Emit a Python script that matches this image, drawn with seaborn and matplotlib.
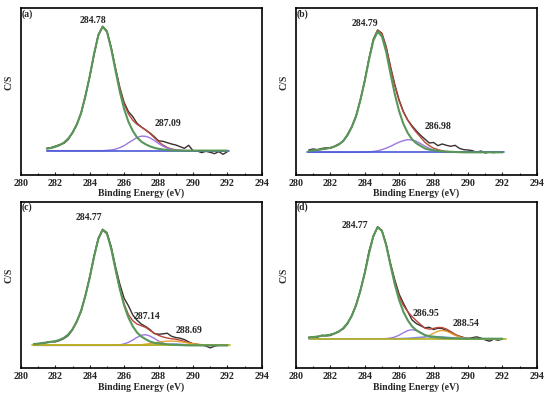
import matplotlib
matplotlib.use("Agg")
import matplotlib.pyplot as plt
import seaborn as sns
from matplotlib.ticker import MultipleLocator

# binding energy grids (eV)
energy_a = [281.5, 281.75, 282.0, 282.25, 282.5, 282.75, 283.0, 283.25, 283.5, 283.75,
            284.0, 284.25, 284.5, 284.75, 285.0, 285.25, 285.5, 285.75, 286.0, 286.25,
            286.5, 286.75, 287.0, 287.25, 287.5, 287.75, 288.0, 288.25, 288.5, 288.75,
            289.0, 289.25, 289.5, 289.75, 290.0, 290.25, 290.5, 290.75, 291.0, 291.25,
            291.5, 291.75, 292.0]
energy_bcd = [280.75, 281.0, 281.25, 281.5, 281.75, 282.0, 282.25, 282.5, 282.75, 283.0,
              283.25, 283.5, 283.75, 284.0, 284.25, 284.5, 284.75, 285.0, 285.25, 285.5,
              285.75, 286.0, 286.25, 286.5, 286.75, 287.0, 287.25, 287.5, 287.75, 288.0,
              288.25, 288.5, 288.75, 289.0, 289.25, 289.5, 289.75, 290.0, 290.25, 290.5,
              290.75, 291.0, 291.25, 291.5, 291.75, 292.0]

# ---- panel (a) ----
a_raw = [16.0, 16.4, 17.3, 18.2, 19.0, 21.2, 25.6, 30.5, 37.0, 47.8,
         59.0, 72.0, 84.2, 89.2, 86.4, 76.5, 64.0, 52.5, 43.5, 38.0,
         35.0, 31.0, 28.8, 27.0, 25.2, 23.0, 20.5, 20.2, 19.4, 18.6,
         18.0, 17.0, 16.0, 17.8, 14.6, 14.4, 13.4, 14.2, 13.6, 12.8,
         14.0, 12.4, 14.0]
a_fit = [15.8, 16.2, 16.9, 17.9, 19.4, 21.8, 25.3, 30.2, 37.3, 47.3,
         59.2, 72.6, 83.8, 89.0, 86.1, 76.0, 63.5, 51.7, 42.5, 36.6,
         32.8, 30.4, 28.7, 27.0, 24.9, 22.4, 20.0, 18.0, 16.5, 15.6,
         15.1, 14.8, 14.6, 14.6, 14.6, 14.6, 14.6, 14.6, 14.6, 14.6,
         14.6, 14.6, 14.6]
a_main = [15.8, 16.2, 16.9, 17.9, 19.4, 21.8, 25.3, 30.2, 37.3, 47.3,
          59.2, 72.6, 83.8, 89.0, 85.9, 75.6, 62.6, 49.9, 39.5, 31.9,
          26.5, 22.5, 20.0, 18.4, 17.2, 16.3, 15.7, 15.3, 15.0, 14.8,
          14.7, 14.7, 14.6, 14.6, 14.6, 14.6, 14.6, 14.6, 14.6, 14.6,
          14.6, 14.6, 14.6]
a_c2 = [14.6, 14.6, 14.6, 14.6, 14.6, 14.6, 14.6, 14.6, 14.6, 14.6,
        14.6, 14.6, 14.6, 14.6, 14.8, 15.0, 15.5, 16.4, 17.6, 19.3,
        20.9, 22.5, 23.3, 23.2, 22.3, 20.7, 18.9, 17.3, 16.1, 15.4,
        15.0, 14.7, 14.6, 14.6, 14.6, 14.6, 14.6, 14.6, 14.6, 14.6,
        14.6, 14.6, 14.6]
a_base_x = [281.5, 292.1]
a_base = [14.6, 14.6]

# ---- panel (b) ----
b_raw = [15.0, 15.6, 15.2, 15.9, 16.3, 16.0, 17.3, 18.6, 20.2, 24.4,
         29.0, 35.8, 45.0, 56.8, 70.0, 81.5, 87.0, 85.0, 76.8, 65.0,
         54.2, 45.0, 38.0, 33.0, 29.5, 26.5, 23.8, 21.5, 19.2, 19.5,
         17.6, 18.6, 17.8, 17.2, 17.8, 16.0, 15.2, 15.0, 14.6, 13.6,
         14.4, 13.2, 13.8, 13.4, 13.9, 13.5]
b_fit = [14.5, 14.7, 15.0, 15.4, 15.8, 16.3, 17.1, 18.3, 20.5, 23.9,
         28.8, 35.3, 45.2, 56.4, 69.6, 81.1, 86.9, 84.7, 76.2, 64.3,
         53.3, 44.3, 37.6, 32.8, 28.8, 25.6, 22.6, 19.6, 17.6, 16.1,
         15.2, 14.5, 14.1, 13.9, 13.8, 13.7, 13.6, 13.6, 13.6, 13.6,
         13.6, 13.6, 13.6, 13.6, 13.6, 13.6]
b_main = [14.5, 14.7, 15.0, 15.4, 15.8, 16.3, 17.1, 18.3, 20.5, 23.9,
          28.8, 35.3, 45.1, 56.3, 69.3, 80.6, 86.0, 83.1, 73.7, 60.7,
          48.4, 38.2, 30.6, 25.2, 21.4, 19.0, 17.4, 15.9, 15.2, 14.8,
          14.5, 14.2, 14.0, 13.9, 13.8, 13.7, 13.6, 13.6, 13.6, 13.6,
          13.6, 13.6, 13.6, 13.6, 13.6, 13.6]
b_c2 = [13.6, 13.6, 13.6, 13.6, 13.6, 13.6, 13.6, 13.6, 13.6, 13.6,
        13.6, 13.6, 13.65, 13.7, 13.85, 14.1, 14.5, 15.2, 16.1, 17.2,
        18.5, 19.7, 20.6, 21.2, 21.0, 20.2, 18.8, 17.3, 16.0, 14.9,
        14.3, 13.9, 13.7, 13.6, 13.6, 13.6, 13.6, 13.6, 13.6, 13.6,
        13.6, 13.6, 13.6, 13.6, 13.6, 13.6]
b_base_x = [280.66, 292.1]
b_base = [13.6, 13.6]

# ---- panel (c) ----
c_raw = [14.2, 14.8, 14.4, 15.6, 16.0, 15.8, 16.6, 17.8, 19.6, 23.0,
         28.4, 34.0, 44.0, 55.0, 67.5, 78.2, 83.5, 81.5, 73.0, 61.0,
         50.5, 42.0, 37.5, 32.0, 28.8, 26.5, 25.0, 23.2, 20.8, 20.4,
         20.6, 21.0, 19.2, 18.4, 18.0, 17.2, 15.8, 14.6, 14.2, 13.9,
         13.3, 12.2, 13.2, 13.8, 14.0, 13.6]
c_fit = [14.5, 14.7, 15.1, 15.4, 15.8, 16.2, 17.0, 18.2, 20.2, 23.4,
         28.0, 34.6, 43.6, 54.4, 66.9, 77.7, 83.2, 80.9, 71.8, 59.4,
         47.8, 38.6, 32.2, 28.5, 26.5, 25.5, 24.5, 22.7, 21.0, 19.7,
         18.8, 18.1, 17.7, 17.4, 16.8, 16.1, 15.3, 14.75, 14.3, 14.1,
         13.9, 13.8, 13.7, 13.7, 13.7, 13.7]
c_main = [14.5, 14.7, 15.1, 15.4, 15.8, 16.2, 17.0, 18.2, 20.2, 23.4,
          28.0, 34.6, 43.6, 54.4, 66.9, 77.7, 83.2, 80.9, 71.8, 59.3,
          47.5, 37.7, 30.4, 25.2, 21.4, 19.0, 17.4, 16.0, 15.2, 14.9,
          14.6, 14.3, 14.1, 14.0, 13.9, 13.8, 13.7, 13.7, 13.7, 13.7,
          13.7, 13.7, 13.7, 13.7, 13.7, 13.7]
c_c2 = [13.7, 13.7, 13.7, 13.7, 13.7, 13.7, 13.7, 13.7, 13.7, 13.7,
        13.7, 13.7, 13.7, 13.7, 13.7, 13.7, 13.7, 13.7, 13.7, 13.8,
        14.0, 14.6, 15.5, 16.9, 18.5, 19.8, 20.1, 19.3, 17.9, 16.3,
        15.1, 14.3, 13.9, 13.8, 13.7, 13.7, 13.7, 13.7, 13.7, 13.7,
        13.7, 13.7, 13.7, 13.7, 13.7, 13.7]
c_c3 = [13.7, 13.7, 13.7, 13.7, 13.7, 13.7, 13.7, 13.7, 13.7, 13.7,
        13.7, 13.7, 13.7, 13.7, 13.7, 13.7, 13.7, 13.7, 13.7, 13.7,
        13.7, 13.7, 13.7, 13.8, 13.95, 14.1, 14.4, 14.8, 15.2, 15.6,
        16.0, 16.2, 16.3, 16.2, 15.9, 15.5, 15.0, 14.6, 14.3, 14.1,
        13.9, 13.8, 13.7, 13.7, 13.7, 13.7]
c_c4 = [13.7, 13.7, 13.7, 13.7, 13.7, 13.7, 13.7, 13.7, 13.7, 13.7,
        13.7, 13.7, 13.7, 13.7, 13.7, 13.7, 13.7, 13.7, 13.7, 13.7,
        13.7, 13.7, 13.7, 13.7, 13.7, 13.7, 13.7, 13.7, 13.8, 14.0,
        14.2, 14.4, 14.5, 14.5, 14.4, 14.2, 14.0, 13.85, 13.7, 13.7,
        13.7, 13.7, 13.7, 13.7, 13.7, 13.7]
c_base_x = [280.66, 292.16]
c_base = [13.7, 13.7]

# ---- panel (d) ----
d_raw = [18.2, 18.8, 18.6, 19.8, 19.4, 19.6, 20.8, 22.2, 23.6, 26.6,
         31.8, 38.2, 47.0, 57.5, 70.5, 79.0, 85.0, 82.8, 74.5, 63.0,
         53.0, 44.5, 39.0, 34.0, 29.0, 26.8, 25.5, 24.2, 24.6, 23.2,
         24.0, 23.8, 22.6, 21.6, 20.0, 19.2, 18.4, 17.8, 18.3, 18.8,
         18.1, 17.0, 16.2, 17.4, 16.8, 17.4]
d_fit = [18.5, 18.7, 19.0, 19.4, 19.7, 20.1, 20.9, 22.0, 24.0, 27.1,
         31.5, 37.9, 46.6, 57.0, 69.1, 79.5, 84.8, 82.5, 73.9, 62.1,
         51.3, 43.1, 37.6, 34.0, 31.0, 28.5, 26.2, 24.05, 23.45, 23.9,
         24.45, 24.4, 23.5, 22.0, 20.4, 19.05, 18.3, 17.9, 17.7, 17.7,
         17.7, 17.7, 17.7, 17.7, 17.7, 17.7]
d_main = [18.5, 18.7, 19.0, 19.4, 19.7, 20.1, 20.9, 22.0, 24.0, 27.1,
          31.5, 37.9, 46.6, 57.0, 69.1, 79.5, 84.8, 82.5, 73.8, 61.7,
          50.3, 40.9, 33.8, 28.8, 25.1, 22.8, 21.3, 19.9, 19.2, 18.9,
          18.6, 18.3, 18.1, 18.0, 17.9, 17.8, 17.7, 17.7, 17.7, 17.7,
          17.7, 17.7, 17.7, 17.7, 17.7, 17.7]
d_c2 = [17.7, 17.7, 17.7, 17.7, 17.7, 17.7, 17.7, 17.7, 17.7, 17.7,
        17.7, 17.7, 17.7, 17.7, 17.7, 17.7, 17.7, 17.7, 17.8, 18.1,
        18.7, 19.8, 21.3, 22.6, 23.1, 22.6, 21.3, 19.8, 18.7, 18.1,
        17.8, 17.7, 17.7, 17.7, 17.7, 17.7, 17.7, 17.7, 17.7, 17.7,
        17.7, 17.7, 17.7, 17.7, 17.7, 17.7]
d_c3 = [17.7, 17.7, 17.7, 17.7, 17.7, 17.7, 17.7, 17.7, 17.7, 17.7,
        17.7, 17.7, 17.7, 17.7, 17.7, 17.7, 17.7, 17.7, 17.7, 17.7,
        17.7, 17.7, 17.7, 17.7, 17.7, 17.8, 18.1, 18.65, 19.7, 21.0,
        22.2, 22.7, 22.2, 21.0, 19.7, 18.65, 18.1, 17.8, 17.7, 17.7,
        17.7, 17.7, 17.7, 17.7, 17.7, 17.7]
d_c4 = [17.7, 17.7, 17.7, 17.7, 17.7, 17.7, 17.7, 17.7, 17.7, 17.7,
        17.7, 17.7, 17.7, 17.7, 17.7, 17.7, 17.7, 17.7, 17.7, 17.7,
        17.7, 17.8, 17.9, 18.0, 18.2, 18.4, 18.6, 18.8, 18.95, 19.0,
        18.95, 18.8, 18.6, 18.4, 18.2, 18.0, 17.9, 17.8, 17.7, 17.7,
        17.7, 17.7, 17.7, 17.7, 17.7, 17.7]
d_base_x = [280.8, 292.2]
d_base = [17.7, 17.7]

# peak labels: (text, energy, height)
a_labels = [("284.78", 284.17, 92.6), ("287.09", 288.53, 31.0)]
b_labels = [("284.79", 284.0, 90.6), ("286.98", 288.24, 29.0)]
c_labels = [("284.77", 283.96, 90.4), ("287.14", 287.35, 31.1), ("288.69", 289.75, 22.5)]
d_labels = [("284.77", 283.45, 85.7), ("286.95", 287.54, 33.1), ("288.54", 289.9, 26.7)]

sns.set_style("ticks")
plt.rcParams['font.family'] = ['Liberation Serif', 'DejaVu Serif']
plt.rcParams['font.weight'] = 'bold'
plt.rcParams['axes.labelweight'] = 'bold'

fig = plt.figure(figsize=(5.5, 3.95), dpi=100)

panels = [
    ("(a)", [0.038, 0.557, 0.438, 0.422], energy_a, a_raw, a_fit, a_main, [a_c2], ["#9a78e0"],
     a_base_x, a_base, "#4a5ad8", a_labels),
    ("(b)", [0.538, 0.557, 0.438, 0.422], energy_bcd, b_raw, b_fit, b_main, [b_c2], ["#9a78e0"],
     b_base_x, b_base, "#4a5ad8", b_labels),
    ("(c)", [0.038, 0.068, 0.438, 0.421], energy_bcd, c_raw, c_fit, c_main,
     [c_c2, c_c3, c_c4], ["#9a78e0", "#e8a232", "#7d8ee8"], c_base_x, c_base, "#bdb10a", c_labels),
    ("(d)", [0.538, 0.068, 0.438, 0.421], energy_bcd, d_raw, d_fit, d_main,
     [d_c2, d_c3, d_c4], ["#9a78e0", "#e8a232", "#7d8ee8"], d_base_x, d_base, "#b3b324", d_labels),
]

for tag, pos, x, raw, fit, main, comps, comp_colors, bx, by, bcolor, labels in panels:
    ax = fig.add_axes(pos)
    sns.lineplot(x=x, y=raw, ax=ax, color="#3b3030", lw=1.0)
    sns.lineplot(x=x, y=fit, ax=ax, color="#b8483a", lw=1.0)
    for comp, col in zip(comps, comp_colors):
        sns.lineplot(x=x, y=comp, ax=ax, color=col, lw=1.0)
    sns.lineplot(x=bx, y=by, ax=ax, color=bcolor, lw=1.2)
    sns.lineplot(x=x, y=main, ax=ax, color="#57985a", lw=1.5)

    for txt, ex, ey in labels:
        ax.text(ex, ey, txt, ha="center", va="center", fontsize=7, fontweight="bold")
    ax.text(0.005, 0.965, tag, transform=ax.transAxes, ha="left", va="center",
            fontsize=7, fontweight="bold")

    ax.set_xlim(280, 294)
    ax.set_ylim(0, 100)
    ax.xaxis.set_major_locator(MultipleLocator(2))
    ax.xaxis.set_minor_locator(MultipleLocator(1))
    ax.tick_params(axis="x", which="both", direction="in", top=False, labelsize=7.2, pad=3)
    ax.tick_params(axis="x", which="major", length=2.5, width=0.8)
    ax.tick_params(axis="x", which="minor", length=1.8, width=0.8)
    ax.set_yticks([])
    for lbl in ax.get_xticklabels():
        lbl.set_fontweight("bold")
    ax.set_xlabel("Binding Energy (eV)", fontsize=7, labelpad=0.5)
    ax.set_ylabel("C/S", fontsize=7)
    ax.yaxis.set_label_coords(-0.03, 0.555)
    for sp in ax.spines.values():
        sp.set_visible(True)
        sp.set_linewidth(1.2)
        sp.set_color("black")

fig.savefig("out.png", dpi=100)
